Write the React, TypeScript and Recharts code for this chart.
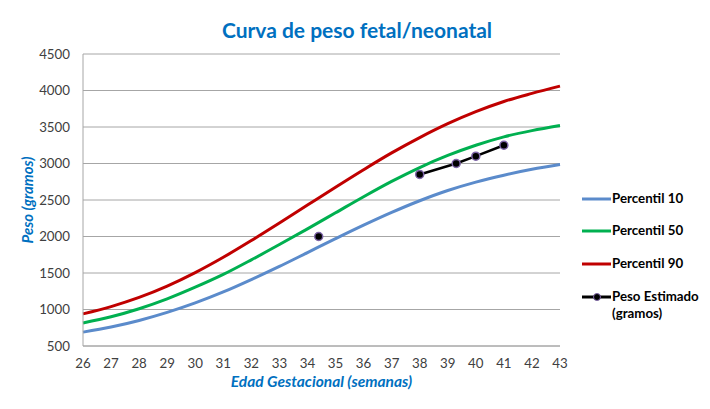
import { LineChart, Line, XAxis, YAxis, CartesianGrid, Legend } from "recharts";

const semanas = [26, 27, 28, 29, 30, 31, 32, 33, 34, 35, 36, 37, 38, 39, 40, 41, 42, 43];
const percentil10 = [690, 760, 850, 960, 1090, 1240, 1410, 1590, 1780, 1970, 2155, 2330, 2490, 2630, 2745, 2840, 2920, 2985];
const percentil50 = [816, 900, 1010, 1145, 1305, 1480, 1680, 1890, 2105, 2325, 2545, 2755, 2945, 3110, 3250, 3365, 3450, 3520];
const percentil90 = [940, 1040, 1165, 1320, 1505, 1715, 1945, 2185, 2430, 2675, 2915, 3145, 3355, 3545, 3710, 3850, 3960, 4060];

const estimadoSemanas = [34.4, 36, 38, 39.3, 40, 41];
const estimadoPeso = [2000, null, 2850, 3000, 3100, 3250];

const xTicks = semanas;
const yTicks = [500, 1000, 1500, 2000, 2500, 3000, 3500, 4000, 4500];

const curvas = semanas.map((s, i) => ({
  semana: s,
  p10: percentil10[i],
  p50: percentil50[i],
  p90: percentil90[i],
}));

const estimado = estimadoSemanas.map((s, i) => ({ semana: s, peso: estimadoPeso[i] }));

const FONT = "Lato, 'Open Sans', sans-serif";
const BLUE_TEXT = "#0070C0";

const legendItems = [
  { label: "Percentil 10", color: "#5B8BCB", top: 199, dot: false },
  { label: "Percentil 50", color: "#00B050", top: 231, dot: false },
  { label: "Percentil 90", color: "#C00000", top: 264, dot: false },
  { label: "Peso Estimado", label2: "(gramos)", color: "#000000", top: 297, dot: true },
];

function LegendBox() {
  return (
    <div style={{ position: "relative", width: 130, height: 409, fontFamily: FONT }}>
      {legendItems.map((it) => (
        <div key={it.label}>
          <svg
            width={32}
            height={10}
            style={{ position: "absolute", left: 1, top: it.top - 5 - 180 }}
          >
            <line x1={1} y1={5} x2={30} y2={5} stroke={it.color} strokeWidth={3} />
            {it.dot && <circle cx={16} cy={5} r={3.5} fill="#000" stroke="#7E65A8" strokeWidth={1} />}
          </svg>
          <div
            style={{
              position: "absolute",
              left: 32,
              top: it.top - 9 - 180,
              fontSize: 13.3,
              fontWeight: 700,
              color: "#000",
              lineHeight: "17px",
              whiteSpace: "nowrap",
            }}
          >
            {it.label}
            {it.label2 && <div>{it.label2}</div>}
          </div>
        </div>
      ))}
    </div>
  );
}

export default function App() {
  return (
    <div style={{ position: "absolute", left: 0, top: 0, width: 710, height: 409, background: "#fff" }}>
      <div
        style={{
          position: "absolute",
          left: 0,
          top: 17,
          width: 714,
          textAlign: "center",
          fontFamily: FONT,
          fontWeight: 700,
          fontSize: 21,
          color: BLUE_TEXT,
          lineHeight: "26px",
        }}
      >
        Curva de peso fetal/neonatal
      </div>
      <LineChart width={710} height={409} margin={{ top: 54, right: 150, bottom: 22, left: 0 }}>
        <CartesianGrid vertical={false} stroke="#A6A6A6" strokeWidth={1} />
        <XAxis
          dataKey="semana"
          type="number"
          domain={[26, 43]}
          ticks={xTicks}
          interval={0}
          allowDuplicatedCategory={false}
          height={40}
          tickLine={false}
          tickMargin={7}
          stroke="#A6A6A6"
          tick={{ fill: "#404040", fontSize: 13.3, fontFamily: FONT }}
          label={{
            value: "Edad Gestacional (semanas)",
            position: "insideBottom",
            offset: -1,
            fill: BLUE_TEXT,
            fontSize: 15.5,
            fontWeight: 700,
            fontStyle: "italic",
            fontFamily: FONT,
          }}
        />
        <YAxis
          type="number"
          domain={[500, 4500]}
          ticks={yTicks}
          interval={0}
          width={83}
          tickLine={false}
          tickMargin={7}
          stroke="#A6A6A6"
          tick={{ fill: "#404040", fontSize: 13.3, fontFamily: FONT }}
          label={{
            value: "Peso (gramos)",
            angle: -90,
            position: "insideLeft",
            offset: 28,
            fill: BLUE_TEXT,
            fontSize: 15,
            fontWeight: 700,
            fontStyle: "italic",
            fontFamily: FONT,
            style: { textAnchor: "middle" },
          }}
        />
        <Line data={curvas} dataKey="p10" name="Percentil 10" type="monotone" stroke="#5B8BCB" strokeWidth={3} dot={false} isAnimationActive={false} />
        <Line data={curvas} dataKey="p50" name="Percentil 50" type="monotone" stroke="#00B050" strokeWidth={3} dot={false} isAnimationActive={false} />
        <Line data={curvas} dataKey="p90" name="Percentil 90" type="monotone" stroke="#C00000" strokeWidth={3} dot={false} isAnimationActive={false} />
        <Line
          data={estimado}
          dataKey="peso"
          name="Peso Estimado (gramos)"
          type="linear"
          stroke="#000"
          strokeWidth={2.5}
          dot={{ r: 4, fill: "#000", stroke: "#7E65A8", strokeWidth: 1.5 }}
          isAnimationActive={false}
        />
        <Legend
          layout="vertical"
          content={() => <LegendBox />}
          wrapperStyle={{ position: "absolute", left: 580, top: 180, width: 130, height: 1 }}
        />
      </LineChart>
    </div>
  );
}
